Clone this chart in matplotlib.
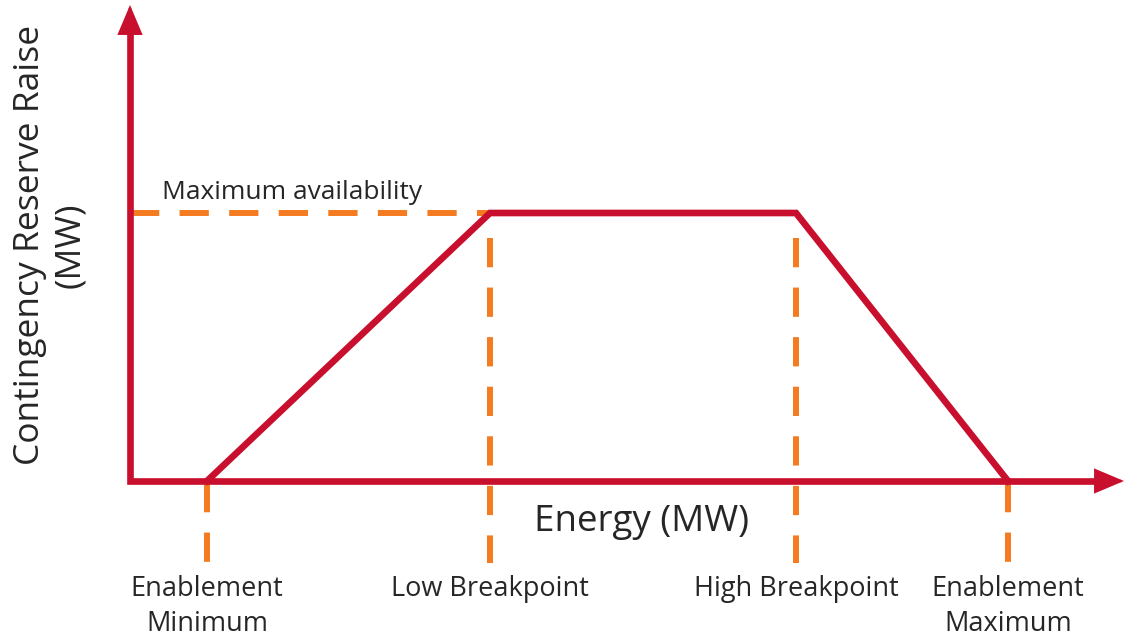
import matplotlib.pyplot as plt

# Curve breakpoints (arbitrary MW units)
point_names = ['Enablement\nMinimum', 'Low Breakpoint', 'High Breakpoint', 'Enablement\nMaximum']
energy = [77, 360, 666, 878]
reserve = [0, 268, 268, 0]
max_avail = 268

red = '#C8102E'
orange = '#F47B20'
txt = '#262626'
plt.rcParams['font.family'] = ['Open Sans', 'DejaVu Sans']

fig = plt.figure(figsize=(11.26, 6.37), dpi=100)
ax = fig.add_axes([0, 0, 1, 1])
ax.set_xlim(-130, 996)
ax.set_ylim(-156, 481)
ax.axis('off')

# axes with arrow heads
ax.plot([0, 0, 975], [460, 0, 0], color=red, lw=4.8, solid_joinstyle='miter',
        solid_capstyle='butt', zorder=3)
head = '-|>,head_length=0.9,head_width=0.38'
for tip, tail in [((0, 476), (0, 440)), ((994, 0), (958, 0))]:
    ax.annotate('', xy=tip, xytext=tail, annotation_clip=False,
                arrowprops=dict(arrowstyle=head, color=red, lw=2, mutation_scale=20,
                                shrinkA=0, shrinkB=0, joinstyle='miter'), zorder=3)

# dashed guides
dash = (4.9, 3.4)
ax.plot([0, energy[1]], [max_avail, max_avail], color=orange, lw=4.3,
        dashes=dash, zorder=2)
for i, x in enumerate(energy):
    top = max_avail - 25 if reserve[i] > 0 else -2
    ax.plot([x, x], [top, -82], color=orange, lw=4.3, dashes=dash, zorder=2)

# trapezoid curve
ax.plot(energy, reserve, color=red, lw=4.8, solid_joinstyle='miter', zorder=4)

# labels
ax.text(32, max_avail + 8, 'Maximum availability', fontsize=19, color=txt,
        ha='left', va='bottom')
ax.text(511, -41, 'Energy (MW)', fontsize=26.5, color=txt, ha='center', va='center')
ax.text(-80, 236, 'Contingency Reserve Raise\n(MW)', fontsize=25.5, color=txt,
        ha='center', va='center', rotation=90, linespacing=1.25)
for x, name in zip(energy, point_names):
    ax.text(x, -94, name, fontsize=19.5, color=txt, ha='center', va='top',
            linespacing=1.33)

fig.savefig('out.png', dpi=100)
